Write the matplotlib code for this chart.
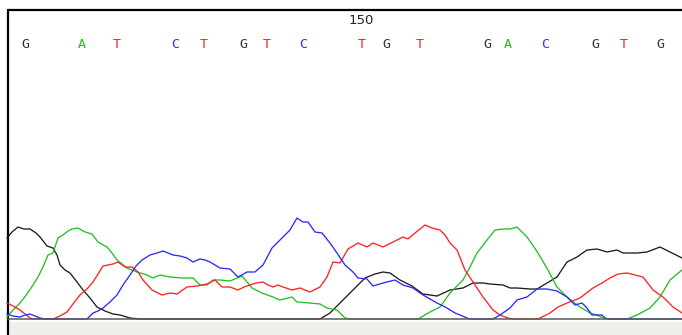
import matplotlib
matplotlib.use("Agg")
import matplotlib.pyplot as plt

# called bases and their scan positions
bases = list("GATCTGTCTGTGACGTG")
base_x = [25, 82, 117, 175, 204, 243, 267, 303, 362, 386, 420, 487, 508, 545, 595, 624, 660]
tick_label = "150"
tick_x = 361

# trace intensities (height above baseline) at scan positions
x_black = [7, 12, 18, 24, 30, 36, 40, 47, 53, 57, 60, 65, 70, 77, 83, 90, 97, 105, 113, 120, 130, 140,
           320, 330, 340, 353, 365, 375, 383, 390, 400, 412, 423, 437, 450, 463, 473, 483, 490, 503, 510,
           517, 530, 537, 547, 557, 567, 577, 587, 597, 607, 617, 623, 637, 647, 660, 670, 682]
h_black = [81, 87, 92, 90, 90, 86, 82, 73, 71, 64, 54, 49, 46, 37, 29, 21, 12, 8, 5, 4, 1, 0,
           0, 6, 16, 29, 41, 45, 47, 46, 39, 33, 25, 23, 29, 31, 36, 36, 35, 34, 31,
           31, 30, 30, 36, 42, 57, 62, 69, 70, 67, 69, 66, 66, 67, 72, 67, 61]

x_green = [7, 13, 20, 27, 33, 38, 43, 48, 53, 58, 63, 68, 72, 78, 85, 92, 98, 107, 112, 117, 122, 127,
           137, 147, 153, 160, 170, 183, 193, 200, 207, 213, 220, 230, 242, 252, 262, 273, 280, 292, 297,
           310, 320, 327, 337, 345, 350, 418, 430, 440, 450, 463, 470, 477, 487, 495, 503, 510, 517, 527,
           538, 548, 557, 567, 580, 590, 597, 603, 608, 627, 637, 650, 660, 670, 682]
h_green = [2, 9, 16, 25, 34, 42, 52, 64, 66, 81, 84, 88, 90, 91, 87, 85, 77, 72, 66, 59, 55, 51,
           47, 44, 41, 44, 42, 41, 41, 34, 34, 39, 39, 38, 43, 31, 26, 22, 19, 22, 17,
           16, 15, 11, 9, 1, 0, 0, 7, 12, 26, 39, 52, 66, 79, 89, 90, 90, 92, 82,
           66, 49, 32, 22, 12, 6, 4, 1, 0, 0, 4, 11, 22, 39, 49]

x_red = [7, 13, 20, 25, 30, 33, 53, 60, 67, 73, 80, 87, 93, 98, 103, 108, 113, 118, 125, 132, 138, 143,
         152, 162, 170, 177, 187, 197, 207, 215, 222, 230, 238, 244, 250, 256, 263, 268, 273, 278, 283,
         292, 300, 310, 320, 327, 333, 340, 348, 358, 367, 373, 383, 393, 403, 408, 415, 425, 432, 440,
         445, 450, 457, 465, 473, 483, 493, 500, 508, 512, 538, 550, 558, 567, 580, 593, 602, 610, 618,
         627, 635, 643, 653, 663, 673, 682]
h_red = [16, 13, 9, 5, 1, 0, 0, 3, 7, 15, 24, 30, 37, 45, 53, 54, 55, 57, 52, 52, 47, 39,
         29, 24, 26, 25, 32, 33, 35, 39, 32, 32, 29, 32, 34, 36, 37, 34, 32, 34, 32,
         29, 31, 27, 32, 42, 57, 56, 70, 76, 72, 76, 72, 77, 82, 80, 86, 94, 91, 89,
         84, 76, 69, 49, 37, 22, 9, 4, 1, 0, 0, 6, 12, 16, 21, 31, 36, 41, 45,
         46, 44, 42, 29, 22, 12, 6]

x_blue = [7, 13, 20, 25, 30, 35, 40, 45, 87, 93, 98, 103, 110, 117, 123, 130, 136, 142, 150, 157, 163,
          168, 173, 180, 187, 193, 200, 205, 210, 215, 220, 230, 238, 247, 255, 263, 272, 278, 283, 290,
          297, 303, 308, 315, 322, 330, 337, 345, 353, 358, 367, 373, 383, 395, 403, 413, 423, 437, 447,
          455, 460, 467, 470, 493, 500, 510, 517, 527, 537, 547, 557, 567, 575, 582, 587, 592, 602, 605,
          608, 682]
h_blue = [5, 3, 2, 4, 5, 3, 1, 0, 0, 6, 8, 11, 17, 24, 34, 44, 53, 59, 64, 66, 68,
          66, 64, 63, 61, 57, 60, 59, 57, 54, 51, 50, 42, 47, 47, 54, 71, 77, 82, 89,
          101, 97, 97, 87, 86, 76, 66, 54, 47, 41, 40, 33, 36, 39, 34, 31, 24, 16, 11,
          6, 4, 1, 0, 0, 4, 11, 19, 22, 30, 30, 28, 22, 14, 16, 11, 4, 4, 1,
          0, 0]

colors = {"G": "#1e1e1e", "A": "#22c022", "T": "#ff2222", "C": "#2a2aff"}
text_colors = {"G": "#333333", "A": "#22bb22", "T": "#ff2020", "C": "#3030ff"}

fig = plt.figure(figsize=(6.82, 3.35), dpi=100)
ax = fig.add_axes([0, 0, 1, 1])
ax.set_xlim(0, 682)
ax.set_ylim(-16, 319)
ax.axis("off")

# frame and footer strip
ax.axvspan(9, 682, ymin=0, ymax=13 / 335, color="#f0efe9", lw=0)
ax.plot([7.5, 7.5], [-16, 309], color="black", lw=1.6, solid_capstyle="butt")
ax.plot([7, 682], [309, 309], color="black", lw=1.6, solid_capstyle="butt")

for xs, hs, b in [(x_black, h_black, "G"), (x_green, h_green, "A"),
                  (x_red, h_red, "T"), (x_blue, h_blue, "C")]:
    ax.plot(xs, hs, color=colors[b], lw=0.95)

ax.plot([8, 682], [0, 0], color="#5a5a5a", lw=1.1, zorder=5)

for b, x in zip(bases, base_x):
    ax.text(x, 275, b, color=text_colors[b], ha="center", va="center",
            family="DejaVu Sans Mono", fontsize=9.5)
ax.text(tick_x, 299, tick_label, color="#222222", ha="center", va="center",
        family="DejaVu Sans", fontsize=9.5)

fig.savefig("out.png", dpi=100)
